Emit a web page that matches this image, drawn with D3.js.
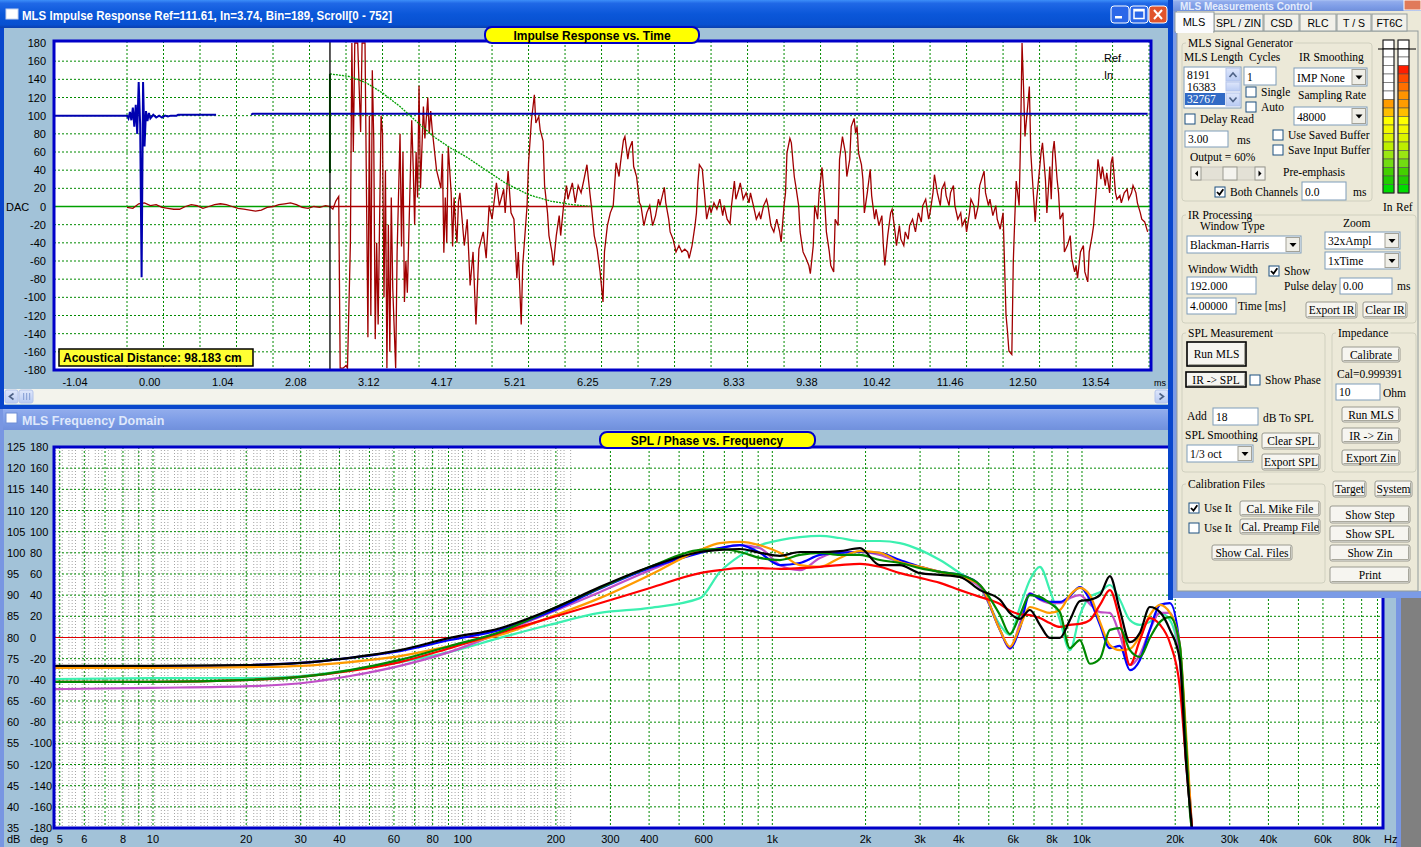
<!DOCTYPE html>
<html><head><meta charset="utf-8">
<script src="https://cdn.jsdelivr.net/npm/d3@7/dist/d3.min.js"></script>
<style>
html,body{margin:0;padding:0;background:#808080;overflow:hidden}
</style></head>
<body>
<svg id="chart" width="1421" height="847" xmlns="http://www.w3.org/2000/svg" font-family="'Liberation Sans',Arial,sans-serif"></svg>
<script>
// ================= DATA =================
// Impulse response: x = bin index (0..752, 48 kHz), y = amplitude (DAC units)
const irTickLabels = ["-1.04","0.00","1.04","2.08","3.12","4.17","5.21","6.25","7.29","8.33","9.38","10.42","11.46","12.50","13.54"];
const irYTicks = [180,160,140,120,100,80,60,40,20,0,-20,-40,-60,-80,-100,-120,-140,-160,-180];
const windowStartBin = 189, windowEndBin = 369;

const refTrace = [[0,100],[50,100],[51,97],[52,104],[53,95],[54,109],[55,88],[56,112],[57,80],[58,137],[59,91],[60,-78],[61,137],[62,66],[63,105],[64,94],[65,103],[66,97],[68,101],[70,98],[72,100],[74,98],[76,100],[78,99],[80,100],[84,100],[85,101],[111,101],[120,null],[135,101],[136,102],[749,102]];

const windowTrace = [[189,37],[189,146],[203,143],[214,136],[225,125],[237,110],[248,94],[260,77],[271,65],[283,54],[294,42],[309,26],[325,13],[340,6],[355,2],[369,0]];

const inTrace = [[50,-1],[54,-2],[58,3],[62,4],[66,1],[70,2],[74,-1],[78,-2],[82,-3],[86,-3],[90,0],[94,2],[98,1],[102,-2],[106,0],[110,2],[114,3],[118,2],[122,0],[126,-2],[130,-3],[134,-4],[138,-5],[142,-4],[146,-1],[150,0],[154,2],[158,3],[162,4],[166,2],[170,-1],[174,-2],[178,0],[182,-1],[186,1],
[189,0],[191,-3],[193,6],[195,11],[196,-178],[198,-178],[200,-175],[201,-178],[203,-40],[204,180],[205,60],[206,180],[208,180],[210,82],[211,180],[213,180],[215,-144],[216,100],[217,-120],[218,150],[219,73],[220,-146],[221,-40],[222,-130],[224,100],[225,80],[226,-100],[227,40],[228,-178],[229,-20],[230,-160],[231,10],[232,-90],[234,-178],[235,-50],[237,80],[238,-44],[239,60],[240,-105],[241,-60],[242,-95],[245,95],[246,44],[247,-20],[248,60],[249,10],[250,133],[251,20],[253,110],[254,75],[256,120],[257,80],[258,105],[259,85],[262,40],[265,20],[266,58],[267,-51],[268,10],[269,-40],[270,66],[272,15],[273,-44],[274,10],[275,-20],[276,-40],[277,5],
[278,15],[281,-43],[283,-14],[285,-87],[287,-50],[289,-130],[291,-47],[294,-28],[296,-57],[298,1],[300,-14],[303,26],[305,1],[308,19],[309,-7],[311,39],[313,-7],[315,-14],[317,-79],[318,-50],[320,-130],[321,-65],[324,1],[325,48],[327,95],[329,123],[330,92],[332,99],[333,84],[335,72],[336,23],[338,-7],[339,-32],[341,-50],[342,-65],[344,-32],[346,-10],[347,-32],[349,1],[351,23],[352,8],[355,26],[357,4],[359,23],[361,15],[363,30],[365,46],[367,15],[368,1],[370,-32],[372,-47],[374,-72],[376,-105],[377,-50],[379,-21],[381,-7],[383,1],[385,48],[387,33],[388,48],[390,73],[391,77],[393,52],[394,63],[396,72],[397,44],[399,33],[401,4],[402,1],[404,-21],[406,-7],[408,1],[410,-21],[412,-10],[414,8],[415,1],[418,21],[419,4],[421,-14],[422,-28],[424,-36],[426,-50],[428,-43],[430,-50],[432,-47],[434,-50],[435,-57],[437,-43],[439,-21],[440,-7],[441,26],[442,46],[444,41],[445,23],[447,-14],[449,1],[450,-7],[452,4],[454,-3],[456,8],[458,-10],[459,1],[461,-14],[463,-19],[464,1],[466,28],[467,8],[469,19],[470,26],[472,8],[474,15],[476,4],[477,15],[479,1],[481,-14],[483,-7],[484,-14],[486,1],[488,8],[489,1],[491,-21],[493,-28],[495,-14],[497,-28],[498,-39],[500,1],[501,15],[502,59],[504,75],[505,70],[507,33],[508,23],[510,1],[511,-28],[513,-50],[515,-57],[517,-65],[518,-74],[520,-43],[521,1],[523,-14],[524,15],[526,43],[528,1],[529,-28],[531,-50],[532,-65],[534,-72],[535,-14],[537,-21],[538,52],[540,77],[542,59],[543,33],[545,52],[546,88],[548,97],[549,81],[550,88],[551,59],[553,46],[554,30],[555,-7],[557,15],[559,41],[560,12],[562,-14],[563,-3],[565,-21],[567,-10],[568,-43],[569,-65],[571,-32],[573,-7],[574,-3],[576,-28],[577,-43],[579,-21],[580,-36],[582,-43],[583,-28],[585,-36],[586,-21],[588,-14],[590,-28],[592,-7],[594,-17],[595,1],[597,8],[599,-14],[600,-7],[602,15],[603,35],[605,15],[607,1],[608,19],[610,26],[611,12],[613,1],[614,15],[616,23],[617,1],[619,-14],[621,-7],[622,-21],[624,-14],[625,-28],[627,-7],[628,8],[630,1],[631,-14],[633,1],[634,23],[637,39],[638,15],[640,1],[641,8],[643,-10],[645,1],[646,-14],[648,-25],[650,-7],[652,-119],[653,-137],[654,-159],[656,-163],[657,-61],[658,-14],[659,28],[661,1],[662,77],[663,180],[664,132],[665,77],[667,113],[668,132],[669,59],[670,33],[672,-17],[673,8],[675,41],[676,59],[677,70],[679,30],[680,-7],[682,44],[683,8],[684,59],[685,72],[687,30],[688,15],[689,-14],[691,-7],[692,-50],[694,-43],[696,-32],[697,-57],[699,-72],[700,-65],[701,-79],[703,-50],[705,-43],[706,-72],[708,-83],[709,-50],[711,-32],[712,-21],[714,23],[715,52],[717,30],[718,44],[720,23],[721,37],[723,15],[724,48],[725,55],[727,15],[728,8],[730,12],[731,4],[733,15],[735,19],[736,8],[738,15],[739,23],[741,15],[742,4],[744,-7],[745,-14],[747,-17],[749,-28]];

// SPL vs frequency (Hz, dB)
const freqs = [4.8,9.8,20.6,30,43.3,62.7,91,132,191,277,403,584,677,785,912,1058,1227,1425,1652,1918,2224,2582,2997,3477,4036,4681,5434,5850,6302,6787,7311,7873,8483,9138,9843,10605,11427,12305,13250,14280,15380,16560,17860,19230,20700,21650,22650,93000];
const splAqua    = [70.2,70.4,70.4,70.9,72.3,74.2,76.6,79.9,83.0,85.8,87.0,89.3, 95.5,99.3,101.8,103.0,103.7,104.0,103.5,102.8,102.8,102.3,100.7,98.3,95.2,91.9,83.0, 80.6,87.2,93.6,96.7,91.2,84.1,77.0,85.3,89.6,90.7,92.4,88.9,84.1,83.0,83.7,85.8,84.1,74.7, 53.4,35.0,null];
const splMagenta = [67.8,68.1,68.5,69.2,70.9,73.3,76.6,81.1,85.8,90.7,95.9,100.2, 101.1,101.8,101.1,97.1,95.9,98.8,100.2,100.2,99.5,97.8,96.7,95.5,94.3,91.9,81.8, 77.3,83.4,90.5,88.9,88.1,88.1,89.3,90.0,87.9,86.0,85.8,80.6,73.5,75.9,81.8,85.8,85.8,74.7, 51.1,35.0,null];
const splBlue    = [72.8,73.0,73.5,74.0,75.2,76.8,79.4,81.8,86.0,91.5,96.4,100.0, 101.1,101.8,100.0,97.1,97.6,99.5,100.0,100.2,100.0,98.3,96.7,95.5,94.8,92.4,81.8, 77.5,82.2,90.3,89.1,88.4,88.4,89.8,91.9,88.9,83.0,77.5,78.0,72.3,74.7,81.8,87.7,88.1,77.8, 55.8,35.0,null];
const splOrange  = [72.8,72.8,73.0,73.3,74.2,75.6,78.0,80.6,84.8,89.3,94.8,100.7, 102.3,102.6,101.8,100.0,97.1,96.7,98.8,100.4,100.0,97.8,96.7,95.5,94.3,92.4,81.8, 77.8,82.5,87.2,86.5,85.8,86.5,90.0,91.7,90.0,83.7,78.2,77.0,77.3,80.4,85.3,87.7,85.8,78.2, 58.1,35.0,null];
const splRed     = [69.5,69.5,70.0,70.7,72.1,74.2,77.5,81.1,84.6,88.1,91.7,95.2, 95.9,96.4,96.4,96.2,96.4,96.7,97.1,97.4,96.7,95.2,94.1,92.9,91.2,89.6,87.9, 86.3,85.5,85.3,84.6,83.4,82.5,83.0,83.2,84.1,87.7,91.2,84.1,73.5,79.4,84.6,83.0,78.7,68.3, 51.1,35.0,null];
const splGreen   = [69.5,69.5,70.0,70.7,72.3,74.7,78.0,81.3,86.5,91.7,96.7,100.7, 100.9,100.2,98.8,98.3,99.5,100.0,99.5,99.5,98.3,97.6,96.4,95.5,94.8,92.4,85.3, 80.8,85.3,90.0,89.6,88.1,86.0,77.5,79.4,73.8,75.0,81.8,82.2,77.0,75.4,79.9,83.7,84.8,78.2, 55.8,35.0,35.0];
const splBlack   = [73.3,73.3,73.5,74.0,75.2,77.0,79.9,82.2,86.5,91.9,96.7,100.2, 100.7,100.9,100.0,99.3,100.2,100.2,100.4,101.1,97.1,97.1,95.2,94.8,94.3,91.2,88.9, 85.8,84.4,86.5,83.0,79.9,79.9,84.1,88.6,88.9,90.0,94.5,86.5,78.9,81.1,87.2,86.0,81.8,74.7, 51.1,35.0,null];
const splRefLevel = 80;

const freqTicks  = [5,6,8,10,20,30,40,60,80,100,200,300,400,600,1000,2000,3000,4000,6000,8000,10000,20000,30000,40000,60000,80000];
const freqLabels = ["5","6","8","10","20","30","40","60","80","100","200","300","400","600","1k","2k","3k","4k","6k","8k","10k","20k","30k","40k","60k","80k"];
const dbTicks  = [125,120,115,110,105,100,95,90,85,80,75,70,65,60,55,50,45,40,35];
const degTicks = ["180","160","140","120","100","80","60","40","20","0","-20","-40","-60","-80","-100","-120","-140","-160","-180"];

// ================= DRAWING =================
const svg = d3.select("#chart");
const defs = svg.append("defs");
function grad(id, stops){ const g=defs.append("linearGradient").attr("id",id).attr("x1",0).attr("y1",0).attr("x2",0).attr("y2",1); stops.forEach(([o,c])=>g.append("stop").attr("offset",o).attr("stop-color",c)); }
grad("tbA", [[0,"#3d8ef8"],[0.12,"#2068e6"],[0.5,"#0b57d9"],[0.88,"#0750d0"],[1,"#0a3fae"]]);
grad("tbI", [[0,"#aac2f3"],[0.15,"#90abec"],[0.6,"#7d9ce6"],[1,"#7090dc"]]);
grad("sb",  [[0,"#dfe7fb"],[1,"#b9cbf3"]]);
function R(g,x,y,w,h,fill,stroke,sw){ return g.append("rect").attr("x",x).attr("y",y).attr("width",w).attr("height",h).attr("fill",fill||"none").attr("stroke",stroke||"none").attr("stroke-width",sw||1); }
function T(g,x,y,t,o){ const e=g.append("text").attr("x",x).attr("y",y).text(t); if(o) for(const k in o) e.attr(k,o[k]); return e; }

const BODY = "#a2c2d8";
R(svg,0,0,1421,847,"#808080");

// ---------- bottom window chrome ----------
R(svg,0,405,1401,442,"#7896e2");
R(svg,3,407,1395,23,"url(#tbI)");
R(svg,6,413,11,10,"#ffffff","#6e8ed6",1);
T(svg,22,425,"MLS Frequency Domain",{"font-size":12.5,"font-weight":"bold",fill:"#dfe8fb"});
R(svg,4,430,1392,417,BODY);

// ---------- top window chrome ----------
R(svg,0,0,1173,409,"#0846cc");
R(svg,0,0,1173,28,"url(#tbA)");
R(svg,6,9,12,10,"#ffffff","#c8d4ee",1);
T(svg,22,20,"MLS Impulse Response  Ref=111.61, In=3.74, Bin=189, Scroll[0 - 752]",{"font-size":12.5,"font-weight":"bold",fill:"#ffffff",textLength:370,lengthAdjust:"spacingAndGlyphs"});
[[1111,"#2b67e8"],[1130,"#2b67e8"],[1149,"#e0542c"]].forEach(([bx,c],i)=>{
  R(svg,bx,6,18,17,c,"#ffffff",1).attr("rx",3);
  if(i===0) R(svg,bx+4,16,7,2.5,"#fff");
  if(i===1){ R(svg,bx+4,9.5,10,9,"none","#fff",1.5); R(svg,bx+4,9.5,10,2,"#fff"); }
  if(i===2) svg.append("path").attr("d",`M${bx+5},10L${bx+13},19M${bx+13},10L${bx+5},19`).attr("stroke","#fff").attr("stroke-width",2);
});
R(svg,4,28,1165,377,BODY);
// scrollbar
R(svg,4,389,1165,15,"#f3f3ec");
R(svg,5,390,13,13,"url(#sb)","#b4c4ea",1).attr("rx",2);
svg.append("path").attr("d","M13.5,393.5L9.5,396.5L13.5,399.5").attr("stroke","#4d6185").attr("stroke-width",1.6).attr("fill","none");
R(svg,19,390,14,13,"url(#sb)","#b4c4ea",1).attr("rx",2);
[23,26,29].forEach(gx=>R(svg,gx,393,1.2,7,"#8fa6d8"));
R(svg,1155,390,13,13,"url(#sb)","#b4c4ea",1).attr("rx",2);
svg.append("path").attr("d","M1159.5,393.5L1163.5,396.5L1159.5,399.5").attr("stroke","#4d6185").attr("stroke-width",1.6).attr("fill","none");

// ================= TOP CHART =================
const P1 = {l:54, t:41, r:1151, b:370};
const xIR = d3.scaleLinear().domain([0,752]).range([54,1152]);
const yIR = d3.scaleLinear().domain([-180,180]).range([370,43]);
defs.append("clipPath").attr("id","clip1").append("rect").attr("x",P1.l).attr("y",P1.t).attr("width",P1.r-P1.l).attr("height",P1.b-P1.t);
R(svg,P1.l,P1.t,P1.r-P1.l,P1.b-P1.t,"#ffffff");
const g1 = svg.append("g").attr("clip-path","url(#clip1)");
const GRID="#008a00";
irYTicks.filter(v=>v!==0 && Math.abs(v)<180).forEach(v=>{
  g1.append("line").attr("x1",P1.l).attr("x2",P1.r).attr("y1",yIR(v)).attr("y2",yIR(v)).attr("stroke",GRID).attr("stroke-dasharray","2,2");
});
d3.range(50,751,25).forEach(b=>{
  g1.append("line").attr("x1",xIR(b)).attr("x2",xIR(b)).attr("y1",P1.t).attr("y2",P1.b).attr("stroke",GRID).attr("stroke-dasharray","2,2");
});
const zl=(a,b,c)=>g1.append("line").attr("x1",xIR(a)).attr("x2",xIR(b)).attr("y1",yIR(0)).attr("y2",yIR(0)).attr("stroke",c).attr("stroke-width",1.5);
zl(0,windowStartBin,"#00a000"); zl(windowStartBin,windowEndBin,"#b00000"); zl(windowEndBin,752,"#00a000");
const lineIR = d3.line().defined(d=>d[1]!==null).x(d=>xIR(d[0])).y(d=>yIR(d[1]));
g1.append("path").attr("d",lineIR(inTrace)).attr("fill","none").attr("stroke","#a00000").attr("stroke-width",1.3);
g1.append("path").attr("d",lineIR(refTrace)).attr("fill","none").attr("stroke","#0000b0").attr("stroke-width",2);
g1.append("path").attr("d",lineIR(windowTrace.slice(0,2))).attr("fill","none").attr("stroke","#009000").attr("stroke-width",2);
g1.append("path").attr("d",lineIR(windowTrace.slice(1))).attr("fill","none").attr("stroke","#00a000").attr("stroke-width",1.3).attr("stroke-dasharray","2,1");
g1.append("line").attr("x1",xIR(windowStartBin)).attr("x2",xIR(windowStartBin)).attr("y1",P1.t).attr("y2",P1.b).attr("stroke","#000").attr("stroke-width",1.3);
R(svg,P1.l,P1.t,P1.r-P1.l,P1.b-P1.t,"none","#0000c8",3);
const AX = {"font-size":11,fill:"#000"};
irYTicks.forEach(v=>T(svg,46,yIR(v)+4,String(v),Object.assign({"text-anchor":"end"},AX)));
T(svg,6,211,"DAC",AX);
irTickLabels.forEach((t,i)=>T(svg,xIR(25+50*i)-3,386,t,Object.assign({"text-anchor":"end"},AX)));
T(svg,1154,386,"ms",{"font-size":9,fill:"#000"});
T(svg,1104,62,"Ref",{"font-size":11,fill:"#000"});
T(svg,1104,79,"In",{"font-size":11,fill:"#000"});
R(svg,485,27,214,16,"#ffff00","#0000c8",2).attr("rx",7);
T(svg,592,40,"Impulse Response vs. Time",{"font-size":12,"font-weight":"bold","text-anchor":"middle",fill:"#000"});
R(svg,59,349,194,17,"#ffff33","#000",1.5);
T(svg,63,362,"Acoustical Distance: 98.183 cm",{"font-size":12,"font-weight":"bold",fill:"#000"});

// ================= BOTTOM CHART =================
const P2 = {l:54, t:447, r:1383, b:828};
const xF = d3.scaleLog().domain([4.79,93760]).range([54,1383]);
const yF = d3.scaleLinear().domain([35,125]).range([828,447]);
defs.append("clipPath").attr("id","clip2").append("rect").attr("x",P2.l).attr("y",P2.t).attr("width",P2.r-P2.l).attr("height",P2.b-P2.t+2);
R(svg,P2.l,P2.t,P2.r-P2.l,P2.b-P2.t,"#ffffff");
const g2 = svg.append("g").attr("clip-path","url(#clip2)");
d3.range(0,157).filter(i=>i%4!==3).forEach(i=>{
  const f = 4.85*Math.pow(10,i*0.01066);
  g2.append("line").attr("x1",xF(f)).attr("x2",xF(f)).attr("y1",P2.t).attr("y2",P2.b).attr("stroke","#8c8c8c").attr("stroke-width",0.8).attr("stroke-dasharray","1,2");
});
[1,10,100,1000,10000].forEach(dec=>d3.range(1,10).forEach(n=>{
  const f=n*dec; if(f<5||f>90000) return;
  g2.append("line").attr("x1",xF(f)).attr("x2",xF(f)).attr("y1",P2.t).attr("y2",P2.b).attr("stroke",GRID).attr("stroke-dasharray","2,2");
}));
dbTicks.filter(v=>v<125&&v>35&&v!==splRefLevel).forEach(v=>{
  g2.append("line").attr("x1",P2.l).attr("x2",P2.r).attr("y1",yF(v)).attr("y2",yF(v)).attr("stroke",GRID).attr("stroke-dasharray","2,2");
});
g2.append("line").attr("x1",P2.l).attr("x2",P2.r).attr("y1",yF(splRefLevel)).attr("y2",yF(splRefLevel)).attr("stroke","#e00000").attr("stroke-width",1.2);
R(svg,P2.l,P2.t,P2.r-P2.l,P2.b-P2.t,"none","#0000c8",3);
const lineF = d3.line().defined(d=>d[1]!==null).x(d=>xF(d[0])).y(d=>yF(d[1])).curve(d3.curveMonotoneX);
[[splAqua,"#3cf0b0"],[splMagenta,"#c050c8"],[splBlue,"#0000ff"],[splOrange,"#ff9a00"],[splRed,"#ff0000"],[splGreen,"#008800"],[splBlack,"#000000"]].forEach(([s,c])=>{
  g2.append("path").attr("d",lineF(freqs.map((f,i)=>[f,s[i]]))).attr("fill","none").attr("stroke",c).attr("stroke-width",2.2);
});
dbTicks.forEach((v,i)=>{
  T(svg,7,yF(v)+4,String(v),AX);
  T(svg,30,yF(v)+4,degTicks[i],AX);
});
T(svg,7,843,"dB",AX); T(svg,30,843,"deg",AX);
freqTicks.forEach((f,i)=>T(svg,xF(f),843,freqLabels[i],Object.assign({"text-anchor":"middle"},AX)));
T(svg,1384,843,"Hz",AX);
R(svg,600,432,215,16,"#ffff00","#0000c8",2).attr("rx",7);
T(svg,707,445,"SPL / Phase vs. Frequency",{"font-size":12,"font-weight":"bold","text-anchor":"middle",fill:"#000"});

// ================= CONTROL PANEL =================
const SERIF = "'Liberation Serif','Times New Roman',serif";
const SANS = "'Liberation Sans',Arial,sans-serif";
const ui = svg.append("g");
R(ui,1168,0,5,600,"#0846cc");
R(ui,1173,0,248,598,"#7b9be6");
R(ui,1173,0,248,11,"url(#tbI)");
T(ui,1180,9.5,"MLS Measurements Control",{"font-size":10,"font-weight":"bold",fill:"#e4ecfc"});
R(ui,1404,0,17,10,"#e07a5a","#fff",1);
R(ui,1177,11,244,580,"#ece9d8");
const u = ui.append("g").attr("font-family",SERIF);
function L(x,y,t,o){ return T(u,x,y,t,Object.assign({"font-size":11.5,fill:"#000"},o||{})); }
// tabs
R(u,1177,31,241,560,"none","#919b9c",1);
[[1214,49,"SPL / ZIN"],[1264,35,"CSD"],[1300,36,"RLC"],[1337,34,"T / S"],[1372,35,"FT6C"]].forEach(([x,w,t])=>{
  R(u,x,14,w,17,"#f2f1ea","#919b9c",1);
  T(u,x+w/2,27,t,{"font-size":10.5,fill:"#000","font-family":SANS,"text-anchor":"middle"});
});
R(u,1175,12,39,20,"#fcfcfe","#919b9c",1);
R(u,1176,30,37,3,"#fcfcfe");
T(u,1194,26,"MLS",{"font-size":11,fill:"#000","font-family":SANS,"text-anchor":"middle"});
function group(x,y,w,h,label){
  R(u,x,y,w,h,"none","#d0d0bf",1).attr("rx",3);
  const t=L(x+6,y+4,label);
  const bb=t.node().getComputedTextLength();
  u.insert("rect",()=>t.node()).attr("x",x+4).attr("y",y-2).attr("width",bb+4).attr("height",5).attr("fill","#ece9d8");
}
function tbox(x,y,w,h,t){ R(u,x,y,w,h,"#ffffff","#7f9db9",1); L(x+3,y+h-4,t); }
function btn(x,y,w,h,t,dark){
  R(u,x,y,w,h,"#f6f5f0",dark?"#000":"#9a9a90",dark?1.6:1).attr("rx",dark?0:2);
  u.append("path").attr("d",`M${x+1.5},${y+h-1.5}H${x+w-1.5}V${y+1.5}`).attr("stroke","#a8a79c").attr("fill","none");
  L(x+w/2,y+h/2+4,t,{"text-anchor":"middle"});
}
function chk(x,y,checked,label){
  R(u,x,y,10,10,"#ffffff","#1c5180",1);
  if(checked) u.append("path").attr("d",`M${x+2},${y+5}l2.5,2.6l3.8,-5.4`).attr("stroke","#000").attr("stroke-width",1.8).attr("fill","none");
  L(x+15,y+9,label);
}
function combo(x,y,w,h,t){
  R(u,x,y,w,h,"#ffffff","#7f9db9",1);
  R(u,x+w-15,y+1.5,13.5,h-3,"#efeee7","#a3a298",1);
  u.append("path").attr("d",`M${x+w-11.5},${y+h/2-1.5}h7l-3.5,4z`).attr("fill","#000");
  L(x+3,y+h-4,t);
}
group(1182,43,190,158,"MLS Signal Generator");
L(1184,61,"MLS Length"); L(1249,61,"Cycles"); L(1299,61,"IR Smoothing");
R(u,1184,67,57,41,"#ffffff","#7f9db9",1);
L(1187,79,"8191"); L(1187,91,"16383");
R(u,1185,93,40,12,"#316ac5"); L(1187,103,"32767",{fill:"#ffffff"});
R(u,1226,68,14,13,"url(#sb)","#b4c4ea",1); R(u,1226,82,14,9,"url(#sb)","#b4c4ea",1); R(u,1226,93,14,13,"url(#sb)","#b4c4ea",1);
u.append("path").attr("d","M1229.5,77l3.5,-4l3.5,4").attr("stroke","#4d6185").attr("stroke-width",1.6).attr("fill","none");
u.append("path").attr("d","M1229.5,97.5l3.5,4l3.5,-4").attr("stroke","#4d6185").attr("stroke-width",1.6).attr("fill","none");
tbox(1244,67,32,18,"1");
chk(1246,87,false,"Single"); chk(1246,102,false,"Auto");
combo(1294,68,73,18,"IMP None");
L(1298,99,"Sampling Rate");
combo(1294,107,73,18,"48000");
chk(1185,114,false,"Delay Read");
tbox(1185,131,43,16,"3.00"); L(1237,144,"ms");
chk(1273,130,false,"Use Saved Buffer"); chk(1273,145,false,"Save Input Buffer");
L(1190,161,"Output = 60%");
R(u,1191,167,74,13,"#e3e1d6","#c8c6bb",1);
R(u,1191,167,10,13,"#f4f3ee","#9a9a90",1); R(u,1255,167,10,13,"#f4f3ee","#9a9a90",1);
u.append("path").attr("d","M1198,170.5l-3,3l3,3z").attr("fill","#000");
u.append("path").attr("d","M1258.5,170.5l3,3l-3,3z").attr("fill","#000");
R(u,1223,167,14,13,"#f4f3ee","#9a9a90",1);
L(1283,176,"Pre-emphasis");
chk(1215,187,true,"Both Channels");
tbox(1302,182,44,18,"0.0"); L(1353,196,"ms");
const meterIn  = ["#fff","#fff","#fff","#fff","#fff","#fff","#fff","#ff9c00","#ffbe00","#ffff00","#f2f800","#dcf400","#bdee00","#9ae612","#72dc12","#44d000","#22cc00","#00dd00"];
const meterRef = ["#fff","#fff","#fff","#ff1e00","#ff4a00","#ff7000","#ff9400","#ff9c00","#ffbe00","#ffff00","#f2f800","#dcf400","#bdee00","#9ae612","#72dc12","#44d000","#22cc00","#00dd00"];
[[1383,meterIn],[1398,meterRef]].forEach(([mx,cols])=>{
  cols.forEach((c,i)=>R(u,mx,40+i*8.5,11,8.5,c,"#555",0.6));
  R(u,mx,40,11,153,"none","#222",1);
});
u.append("line").attr("x1",1378).attr("x2",1416).attr("y1",49).attr("y2",49).attr("stroke","#000").attr("stroke-width",1.2);
L(1383,211,"In"); L(1396,211,"Ref");
group(1182,215,234,108,"IR Processing");
L(1200,230,"Window Type"); L(1343,227,"Zoom");
combo(1187,236,114,17,"Blackman-Harris");
combo(1325,232,75,17,"32xAmpl"); combo(1325,252,75,17,"1xTime");
L(1188,273,"Window Width"); chk(1269,266,true,"Show");
tbox(1187,277,69,17,"192.000");
L(1284,290,"Pulse delay"); tbox(1340,278,52,16,"0.00"); L(1397,290,"ms");
tbox(1187,298,49,16,"4.00000"); L(1238,310,"Time [ms]");
btn(1306,302,51,16,"Export IR"); btn(1363,302,44,16,"Clear IR");
group(1182,333,143,139,"SPL Measurement");
btn(1187,342,59,24,"Run MLS",true);
btn(1186,372,60,15,"IR -> SPL",true);
chk(1250,375,false,"Show Phase");
L(1187,420,"Add"); tbox(1213,408,45,17,"18"); L(1263,422,"dB   To SPL");
L(1185,439,"SPL Smoothing");
combo(1187,445,66,17,"1/3 oct");
btn(1262,433,58,16,"Clear SPL"); btn(1262,454,58,16,"Export SPL");
group(1332,333,84,139,"Impedance");
btn(1342,347,58,15,"Calibrate");
L(1337,378,"Cal=0.999391");
tbox(1336,384,44,16,"10"); L(1383,397,"Ohm");
btn(1342,407,58,15,"Run MLS"); btn(1342,428,58,15,"IR -> Zin"); btn(1342,450,58,15,"Export Zin");
group(1182,484,143,99,"Calibration Files");
chk(1189,503,true,"Use It"); chk(1189,523,false,"Use It");
btn(1240,501,80,15,"Cal. Mike File"); btn(1240,519,80,15,"Cal. Preamp File");
btn(1212,545,80,15,"Show Cal. Files");
btn(1333,481,33,16,"Target"); btn(1375,481,37,16,"System");
btn(1330,506,80,17,"Show Step"); btn(1330,526,80,16,"Show SPL"); btn(1330,545,80,16,"Show Zin"); btn(1330,567,80,16,"Print");
</script>
</body></html>
